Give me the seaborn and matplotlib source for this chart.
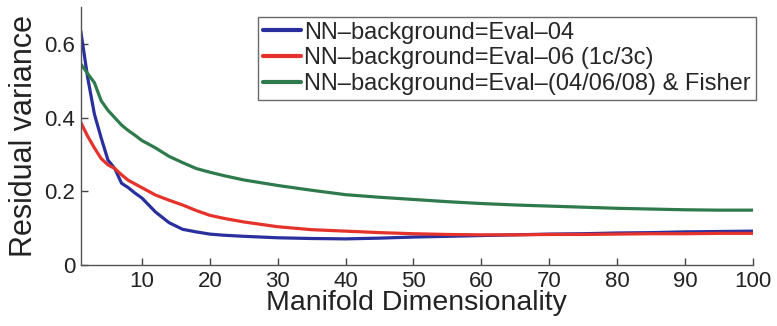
import matplotlib
matplotlib.use("Agg")
import matplotlib.pyplot as plt
import seaborn as sns
import pandas as pd

# Manifold dimensionality sample points
dims = [1, 2, 3, 4, 5, 6, 7, 8, 9, 10, 12, 14, 16, 18, 20, 22, 25, 30, 35, 40,
        45, 50, 55, 60, 65, 70, 75, 80, 85, 90, 95, 100]

# Residual variance for each background model
eval04 = [0.635, 0.51, 0.41, 0.345, 0.285, 0.262, 0.222, 0.21, 0.195, 0.182,
          0.144, 0.115, 0.097, 0.09, 0.084, 0.081, 0.078, 0.074, 0.072, 0.071,
          0.073, 0.076, 0.078, 0.080, 0.082, 0.084, 0.085, 0.087, 0.088, 0.090,
          0.091, 0.092]
eval06 = [0.387, 0.350, 0.318, 0.289, 0.272, 0.262, 0.245, 0.230, 0.220, 0.210,
          0.190, 0.176, 0.163, 0.148, 0.135, 0.127, 0.117, 0.104, 0.096, 0.092,
          0.088, 0.085, 0.083, 0.082, 0.082, 0.083, 0.083, 0.084, 0.085, 0.085,
          0.086, 0.086]
eval_fisher = [0.546, 0.52, 0.495, 0.446, 0.42, 0.40, 0.38, 0.365, 0.352, 0.338,
               0.318, 0.295, 0.278, 0.262, 0.252, 0.243, 0.231, 0.216, 0.203, 0.191,
               0.184, 0.178, 0.172, 0.167, 0.163, 0.160, 0.157, 0.154, 0.152, 0.150,
               0.149, 0.149]

series_names = [
    "NN–background=Eval–04",
    "NN–background=Eval–06 (1c/3c)",
    "NN–background=Eval–(04/06/08) & Fisher",
]
series_values = [eval04, eval06, eval_fisher]
colors = ["#2a2f9e", "#e5322b", "#2f7a4c"]

df = pd.concat(
    [pd.DataFrame({"dim": dims, "resid": vals, "model": name})
     for name, vals in zip(series_names, series_values)],
    ignore_index=True,
)

sns.set_theme(style="ticks")
plt.rcParams["font.family"] = ["Liberation Sans", "DejaVu Sans"]

fig = plt.figure(figsize=(7.77, 3.26), dpi=100)
ax = fig.add_axes([0.104, 0.187, 0.865, 0.791])

sns.lineplot(data=df, x="dim", y="resid", hue="model", hue_order=series_names,
             palette=colors, linewidth=2.3, ax=ax)

ax.set_xlim(1, 100)
ax.set_ylim(0, 0.7)
ax.set_xticks([10, 20, 30, 40, 50, 60, 70, 80, 90, 100])
ax.set_yticks([0, 0.2, 0.4, 0.6])
ax.set_yticklabels(["0", "0.2", "0.4", "0.6"])
ax.tick_params(direction="in", length=5, width=1, color="#444444",
               labelsize=16, labelcolor="#222222", pad=4)

for side in ["top", "right"]:
    ax.spines[side].set_visible(False)
for side in ["left", "bottom"]:
    ax.spines[side].set_color("#555555")
    ax.spines[side].set_linewidth(1.0)

ax.set_xlabel("Manifold Dimensionality", fontsize=20.5, color="#222222", labelpad=-1)
ax.set_ylabel("Residual variance", fontsize=22, color="#222222", labelpad=4)

leg = ax.legend(loc="upper right", bbox_to_anchor=(1.004, 0.962), fontsize=17,
                frameon=True, fancybox=False, edgecolor="#444444",
                handlelength=1.6, handletextpad=0.15, borderpad=0.2,
                labelspacing=0.16, borderaxespad=0.0)
leg.get_frame().set_linewidth(1.0)
for line in leg.get_lines():
    line.set_linewidth(3)

fig.savefig("out.png", dpi=100)
